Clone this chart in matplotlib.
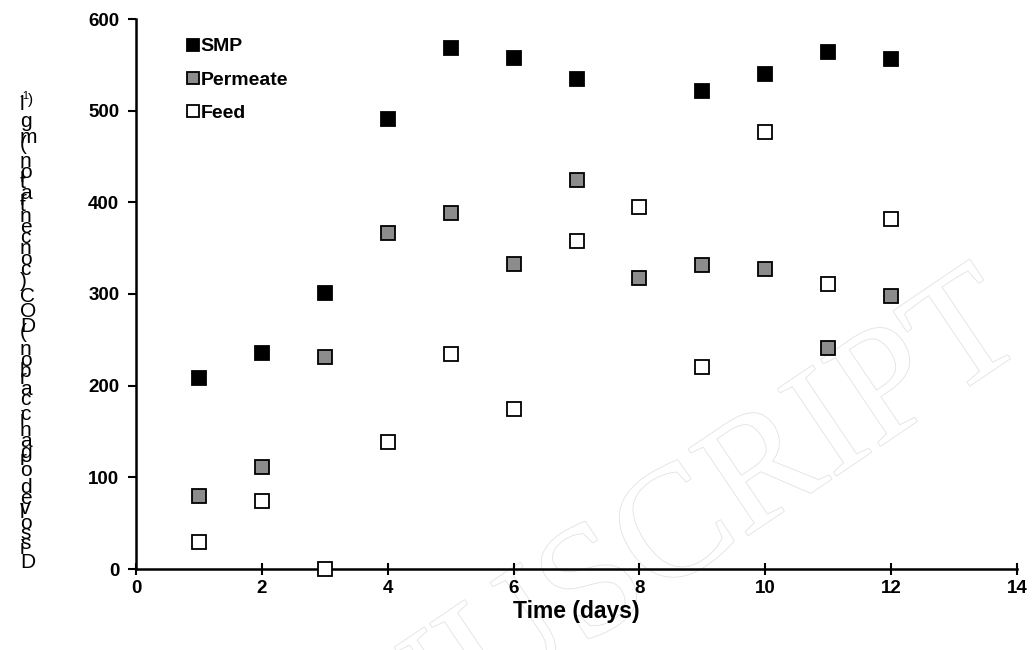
import numpy as np
import matplotlib
matplotlib.use("Agg")
import matplotlib.pyplot as plt
import matplotlib.patheffects as pe
from matplotlib import font_manager
from matplotlib.ft2font import FT2Font

plt.rcParams['font.family'] = ['Liberation Sans', 'DejaVu Sans']

# Carbono orgánico disuelto medido cada día
dias = [1, 2, 3, 4, 5, 6, 7, 8, 9, 10, 11, 12]
smp = [208, 236, 301, 491, 568, 557, 535, None, 521, 540, 564, 556]
permeado = [80, 111, 231, 367, 388, 333, 424, 317, 332, 327, 241, 298]
alimentacion = [29, 74, 0, 139, 235, 175, 358, 395, 220, 477, 311, 382]

series = [
    ("SMP", smp, "black"),
    ("Permeate", permeado, "#8c8c8c"),
    ("Feed", alimentacion, "white"),
]

fig = plt.figure(figsize=(10.33, 6.5), dpi=100)
ax = fig.add_axes([136 / 1033, 1 - 569 / 650, (1017 - 136) / 1033, (569 - 19) / 650])
ax.set_zorder(2)
ax.patch.set_alpha(0)

for nombre, valores, color in series:
    x = [d for d, v in zip(dias, valores) if v is not None]
    y = [v for v in valores if v is not None]
    ax.plot(x, y, linestyle='none', marker='s', markersize=9.5,
            markerfacecolor=color, markeredgecolor='black', markeredgewidth=1.3,
            label=nombre, clip_on=False, zorder=3)

ax.set_xlim(0, 14)
ax.set_ylim(0, 600)
ax.set_xticks(range(0, 15, 2))
ax.set_yticks(range(0, 601, 100))

for lado in ['top', 'right']:
    ax.spines[lado].set_visible(False)
for lado in ['left', 'bottom']:
    ax.spines[lado].set_linewidth(1.8)

ax.tick_params(axis='y', direction='out', length=6, width=1.5, pad=6, labelsize=13.5)
ax.tick_params(axis='x', direction='inout', length=8, width=1.5, pad=4, labelsize=13.5)
for etiqueta in ax.get_xticklabels() + ax.get_yticklabels():
    etiqueta.set_fontweight('bold')

ax.set_xlabel("Time (days)", fontsize=16.5, fontweight='bold', labelpad=2)

leg = ax.legend(loc='upper left', bbox_to_anchor=(0.05, 0.98), frameon=False,
                prop={'weight': 'bold', 'size': 14}, handlelength=0.5,
                handletextpad=0.15, labelspacing=0.8, borderaxespad=0)
for h in leg.legend_handles:
    h.set_markersize(8.5)

# Etiqueta del eje Y: caracteres apilados uno encima de otro
texto_y = "Dissolved organic carbon (DOC) concentration (mg l"
ruta = font_manager.findfont(font_manager.FontProperties(family='Liberation Sans'))
ft = FT2Font(ruta)
ft.set_size(15, 72)
avances = [ft.load_char(ord(c)).linearHoriAdvance / 65536 for c in texto_y]
acumulado = np.concatenate([[0], np.cumsum(avances)])
escala = (568 - 110) / acumulado[-2]
for c, a in zip(texto_y, acumulado):
    if c == ' ':
        continue
    fig.text(20 / 1033, 1 - (568 - a * escala) / 650, c, fontsize=15,
             ha='left', va='baseline')
fig.text(20 / 1033, 1 - 99 / 650, "-1", fontsize=8, ha='left', va='baseline')
fig.text(28 / 1033, 1 - 104 / 650, ")", fontsize=11, ha='left', va='baseline')

# Marca de agua diagonal, detrás de los ejes
fig.text(1030 / 1033, 1 - 345 / 650, "ACCEPTED MANUSCRIPT", fontsize=115,
         family='Liberation Serif', color='white', rotation=34,
         rotation_mode='anchor', ha='right', va='baseline', zorder=0,
         path_effects=[pe.withStroke(linewidth=1.2, foreground='#e2e2e2')])

fig.savefig("out.png", dpi=100)
